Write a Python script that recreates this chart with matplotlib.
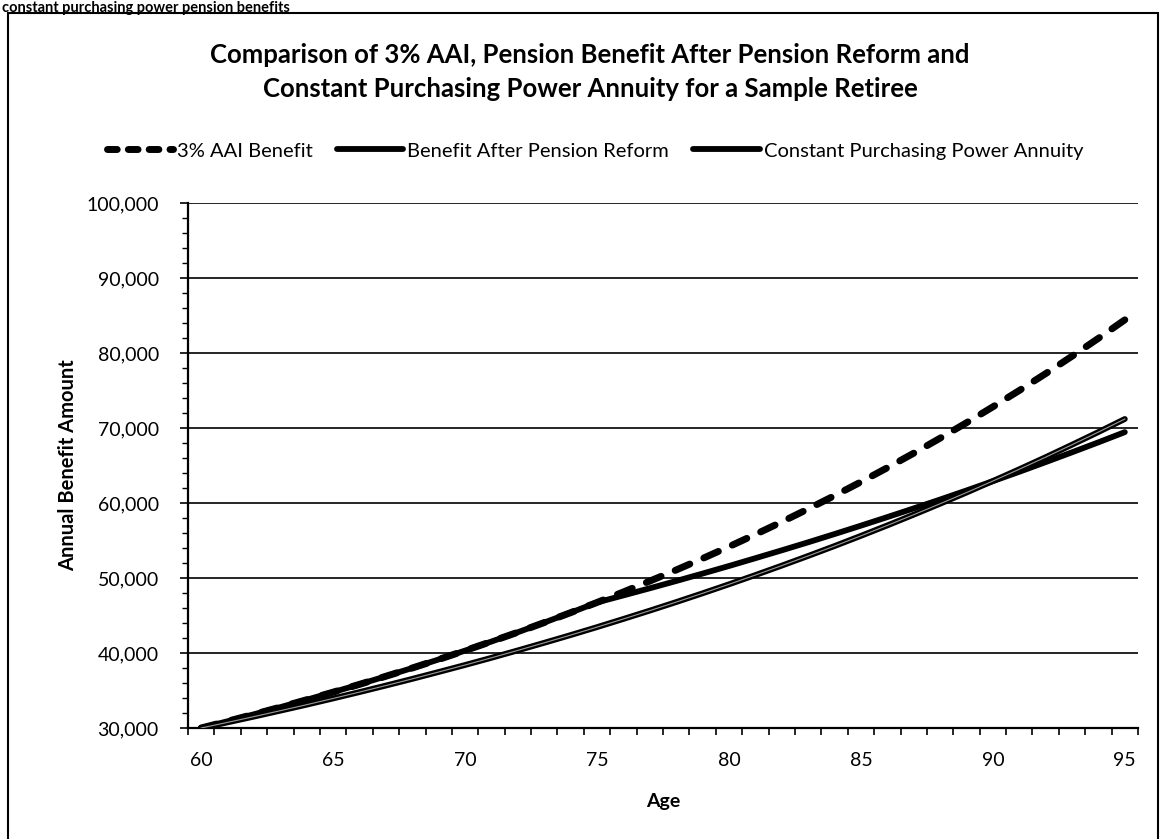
import matplotlib
matplotlib.use("Agg")
import matplotlib.pyplot as plt
from matplotlib.lines import Line2D
from matplotlib.patches import Rectangle
from matplotlib.ticker import FuncFormatter, MultipleLocator

plt.rcParams['font.family'] = ['Lato', 'DejaVu Sans']

# ages 60..95
ages = list(range(60, 96))

# 3% AAI benefit
aai = [30000, 30900, 31830, 32780, 33770, 34780, 35820, 36900, 38000, 39140,
       40320, 41530, 42770, 44060, 45380, 46740, 48140, 49590, 51070, 52600,
       54180, 55810, 57480, 59210, 60980, 62810, 64700, 66640, 68640, 70700,
       72820, 75000, 77250, 79570, 81960, 84420]

# benefit after pension reform
reform = [30000, 30900, 31830, 32780, 33770, 34780, 35820, 36900, 38000, 39140,
          40320, 41530, 42770, 44060, 45380, 46740, 47680, 48630, 49600, 50590,
          51600, 52640, 53690, 54760, 55860, 56980, 58120, 59280, 60460, 61670,
          62910, 64160, 65450, 66760, 68090, 69450]

# constant purchasing power annuity
cpp = [30000, 30750, 31520, 32310, 33110, 33940, 34790, 35660, 36550, 37470,
       38400, 39360, 40350, 41360, 42390, 43450, 44540, 45650, 46790, 47960,
       49160, 50390, 51650, 52940, 54260, 55620, 57010, 58440, 59900, 61390,
       62930, 64500, 66110, 67770, 69460, 71200]

W, H = 1168, 839
fig = plt.figure(figsize=(W / 100, H / 100), dpi=100)
ax = fig.add_axes([188 / W, 1 - 728 / H, (1138 - 188) / W, (728 - 203) / H])

ax.plot(ages, aai, color='black', lw=5, dashes=(2.3, 2.2),
        dash_capstyle='round', zorder=3)
l_ref, = ax.plot(ages, reform, color='black', lw=4.2, solid_capstyle='round',
                 zorder=4)
l_cpp, = ax.plot(ages, cpp, color='black', lw=4.2, solid_capstyle='round', zorder=5)
ax.plot(ages, cpp, color='#9a9a9a', lw=0.8, zorder=6)

ax.set_xlim(59.5, 95.5)
ax.set_ylim(30000, 100000)

# category-style axis: ticks between categories, labels every 5 years
ax.set_xticks([a for a in ages if a % 5 == 0])
ax.set_xticks([a - 0.5 for a in ages] + [95.5], minor=True)
ax.tick_params(axis='x', which='major', length=0, pad=17, labelsize=14)
ax.tick_params(axis='x', which='minor', length=5, width=1.2, direction='out')

ax.yaxis.set_major_locator(MultipleLocator(10000))
ax.yaxis.set_minor_locator(MultipleLocator(2000))
ax.yaxis.set_major_formatter(FuncFormatter(lambda v, p: f'{int(v):,}'))
ax.tick_params(axis='y', which='major', length=6, width=1.2, pad=15, labelsize=14)
ax.tick_params(axis='y', which='minor', length=4, width=1.0)

ax.grid(axis='y', which='major', color='black', lw=1.2)
ax.set_axisbelow(True)
for s in ['top', 'right']:
    ax.spines[s].set_visible(False)
for s in ['left', 'bottom']:
    ax.spines[s].set_linewidth(1.6)

fig.text(68 / W, 1 - 465 / H, 'Annual Benefit Amount', rotation=90,
         ha='center', va='center', fontsize=14.5, fontweight='bold')
fig.text(663 / W, 1 - 801 / H, 'Age', ha='center', va='center',
         fontsize=14, fontweight='bold')

fig.text(590 / W, 1 - 55 / H,
         'Comparison of 3% AAI, Pension Benefit After Pension Reform and',
         ha='center', va='center', fontsize=18.5, fontweight='bold')
fig.text(590 / W, 1 - 89 / H,
         'Constant Purchasing Power Annuity for a Sample Retiree',
         ha='center', va='center', fontsize=18.5, fontweight='bold')

# heading of the page above the chart
fig.text(2 / W, 1 - 1 / H, 'constant purchasing power pension benefits',
         ha='left', va='top', fontsize=10.5, fontweight='bold')

h_aai = Line2D([], [], color='black', lw=5, dashes=(1.4, 1.6),
               dash_capstyle='round')
handles = [h_aai, l_ref, l_cpp]
labels = ['3% AAI Benefit', 'Benefit After Pension Reform',
          'Constant Purchasing Power Annuity']
fig.legend(handles, labels, loc='center', ncol=3, frameon=False,
           bbox_to_anchor=(595 / W, 1 - 151 / H), fontsize=14.5,
           handlelength=3.3, handletextpad=0.2, columnspacing=1.2)

# outer chart border
fig.patches.append(Rectangle((8 / W, -0.02), 1150 / W, 1 - 13 / H + 0.02,
                             transform=fig.transFigure, fill=False,
                             edgecolor='black', lw=1.5))

fig.savefig('out.png', dpi=100)
